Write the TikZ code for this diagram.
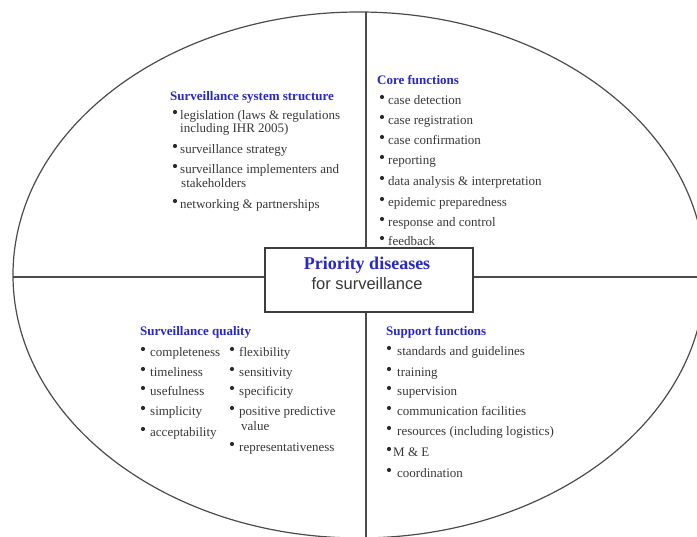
\documentclass[tikz,border=0pt]{standalone}
\usepackage{fontspec}
\setmainfont{Liberation Serif}
\setsansfont{Liberation Sans}

\definecolor{ink}{RGB}{55,55,55}
\definecolor{ttlblue}{RGB}{38,38,205}
\definecolor{rimgray}{RGB}{75,75,75}

\tikzset{
    itm/.style={anchor=base west, inner sep=0pt, text=ink, font=\fontsize{13}{14}\selectfont},
    hdr/.style={itm, text=ttlblue, font=\fontsize{13}{14}\selectfont\bfseries},
    rim/.style={draw=rimgray, line width=1.2pt},
    prio/.style={draw=rimgray!80!black, line width=1.4pt, minimum width=208, minimum height=64, inner sep=0pt},
    dot/.style={fill=ink!80!black}
}

\begin{document}
\begin{tikzpicture}[x=1pt, y=-1pt]
        \useasboundingbox (0,0) rectangle (697,537);
        \clip (0,0) rectangle (697,537);

        % outer ellipse and the four quarters
        \draw[rim] (359,275) ellipse [x radius=346, y radius=263];
        \coordinate (top) at (366,12);
        \coordinate (bot) at (366,540);
        \coordinate (lft) at (13,277);
        \coordinate (rgt) at (700,277);

        \node[prio] (prio) at (369,280) {};
        \node[inner sep=0pt, anchor=base, text=ttlblue, font=\fontsize{18}{20}\selectfont\bfseries] (pd) at (367,270) {Priority diseases};
        \node[inner sep=0pt, anchor=base, text=ink, font=\sffamily\fontsize{16.5}{18}\selectfont] (fs) at (367,290) {for surveillance};

        \draw[rim] (lft) -- (lft -| prio.west);
        \draw[rim] (prio.east |- rgt) -- (rgt);
        \draw[rim] (top) -- (top |- prio.north);
        \draw[rim] (prio.south -| bot) -- (bot);

        \begin{scope}[yshift=-2pt]
        % top left
        \node[hdr] (sss) at (170,99) {Surveillance system structure};
        \node[itm] (leg) at (180,118) {legislation (laws \& regulations};
        \node[itm] (leg2) at (180,131) {including IHR 2005)};
        \node[itm] (stra) at (180,152) {surveillance strategy};
        \node[itm] (impl) at (180,172) {surveillance implementers and};
        \node[itm] (impl2) at (181,186) {stakeholders};
        \node[itm] (netw) at (180,207) {networking \& partnerships};
        \foreach \y in {118,152,172,207} \fill[dot] (175,\y-8) circle (2.1);

        % top right
        \node[hdr] (core) at (377,83) {Core functions};
        \node[itm] (det) at (388,103) {case detection};
        \node[itm] (reg) at (388,123) {case registration};
        \node[itm] (conf) at (388,143) {case confirmation};
        \node[itm] (rep) at (388,163) {reporting};
        \node[itm] (dat) at (388,184) {data analysis \& interpretation};
        \node[itm] (epi) at (388,205) {epidemic preparedness};
        \node[itm] (resp) at (388,225) {response and control};
        \node[itm] (feed) at (388,244) {feedback};
        \foreach \y in {103,123,143,163,184,205,225,244} \fill[dot] (382,\y-8) circle (2.1);

        % bottom left
        \node[hdr] (qual) at (140,334) {Surveillance quality};
        \node[itm] (comp) at (150,355) {completeness};
        \node[itm] (time) at (150,375) {timeliness};
        \node[itm] (use) at (150,394) {usefulness};
        \node[itm] (simp) at (150,414) {simplicity};
        \node[itm] (acc) at (150,435) {acceptability};
        \node[itm] (flex) at (239,355) {flexibility};
        \node[itm] (sens) at (239,375) {sensitivity};
        \node[itm] (spec) at (239,394) {specificity};
        \node[itm] (ppv) at (239,414) {positive predictive};
        \node[itm] (ppv2) at (241,429) {value};
        \node[itm] (repr) at (239,450) {representativeness};
        \foreach \y in {355,375,394,414,435} \fill[dot] (143,\y-8) circle (2.1);
        \foreach \y in {355,375,394,414,450} \fill[dot] (232,\y-8) circle (2.1);

        % bottom right
        \node[hdr] (supp) at (386,334) {Support functions};
        \node[itm] (stan) at (397,354) {standards and guidelines};
        \node[itm] (trai) at (397,375) {training};
        \node[itm] (supv) at (397,394) {supervision};
        \node[itm] (comm) at (397,414) {communication facilities};
        \node[itm] (reso) at (397,434) {resources (including logistics)};
        \node[itm] (me) at (393,455) {M \& E};
        \node[itm] (coor) at (397,476) {coordination};
        \foreach \y in {354,375,394,414,434,455,476} \fill[dot] (389,\y-8) circle (2.1);
        \end{scope}

\end{tikzpicture}
\end{document}
